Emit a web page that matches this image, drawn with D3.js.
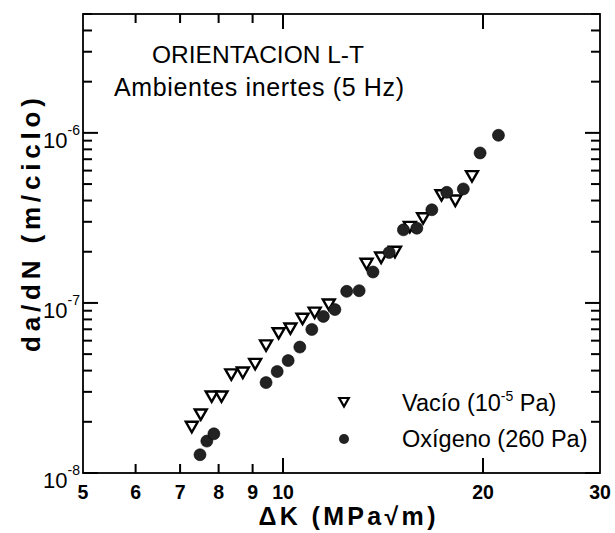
<!DOCTYPE html>
<html><head><meta charset="utf-8">
<script src="https://cdn.jsdelivr.net/npm/d3@7/dist/d3.min.js"></script>
<style>
body{margin:0;background:#fff}
svg{display:block}
text{font-family:"Liberation Sans",Arial,Helvetica,sans-serif;fill:#000}
</style>
</head><body>
<svg id="c" width="615" height="533"></svg>
<script>
// ---- data ----
const vacioK    = [7.29, 7.52, 7.81, 8.08, 8.36, 8.70, 9.08, 9.43, 9.85, 10.26, 10.70, 11.16, 11.72, 13.36, 14.05, 14.74, 15.52, 16.25, 17.32, 18.17, 19.25];
const vacioRate = [1.87e-8, 2.21e-8, 2.82e-8, 2.82e-8, 3.80e-8, 3.90e-8, 4.38e-8, 5.63e-8, 6.64e-8, 7.08e-8, 8.08e-8, 8.77e-8, 9.8e-8, 1.70e-7, 1.85e-7, 2.0e-7, 2.8e-7, 3.15e-7, 4.3e-7, 4.0e-7, 5.57e-7];
const oxiK      = [7.50, 7.68, 7.87, 9.43, 9.80, 10.18, 10.60, 11.05, 11.50, 11.97, 12.47, 13.02, 13.66, 14.45, 15.18, 15.90, 16.75, 17.64, 18.68, 19.80, 21.10];
const oxiRate   = [1.28e-8, 1.54e-8, 1.70e-8, 3.40e-8, 3.95e-8, 4.58e-8, 5.5e-8, 6.98e-8, 8.33e-8, 9.14e-8, 1.17e-7, 1.18e-7, 1.52e-7, 1.98e-7, 2.69e-7, 2.75e-7, 3.53e-7, 4.47e-7, 4.68e-7, 7.62e-7, 9.68e-7];

const xDomain = [5, 30];
const yDomain = [1e-8, 5e-6];
const xTickValues = [5, 6, 7, 8, 9, 10, 20, 30];
const xTickLabels = ["5", "6", "7", "8", "9", "10", "20", "30"];
const xMajorTicks = [10, 20];
const xMinorTicks = [6, 7, 8, 9];
const yDecades = [1e-8, 1e-7, 1e-6];
const yExponents = ["-8", "-7", "-6"];
const yMinorMultipliers = [2, 3, 4, 5, 6, 7, 8, 9];
const titleLines = ["ORIENTACION L-T", "Ambientes inertes (5 Hz)"];
const xTitle = "\u0394K  (MPa\u221Am)";
const yTitle = "da/dN  (m/ciclo)";
const legendVacio = ["Vac\u00EDo (10", "-5", " Pa)"];
const legendOxi = "Ox\u00EDgeno (260 Pa)";

// ---- layout ----
const L = 83, R = 600, T = 14, B = 473;
const svg = d3.select("#c");
const x = d3.scaleLog().domain(xDomain).range([L, R]);
const y = d3.scaleLog().domain(yDomain).range([B, T]);

const yMinorTicks = [];
yDecades.forEach(d => yMinorMultipliers.forEach(k => { const v = d * k; if (v < yDomain[1]) yMinorTicks.push(v); }));

// frame
svg.append("rect").attr("x", L).attr("y", T).attr("width", R - L).attr("height", B - T)
  .attr("fill", "none").attr("stroke", "#000").attr("stroke-width", 1.8);

// ticks (inward)
const MAJ = 15, MIN = 9, TW = 2;
const xt = [];
xMajorTicks.forEach(v => xt.push({v, len: MAJ}));
xMinorTicks.forEach(v => xt.push({v, len: MIN}));
const yt = [];
yDecades.forEach(v => yt.push({v, len: MAJ}));
yMinorTicks.forEach(v => yt.push({v, len: MIN}));

const tg = svg.append("g").attr("class", "ticks");
[B, T].forEach(edge => {
  tg.append("g").selectAll("rect").data(xt).join("rect")
    .attr("x", d => x(d.v) - TW / 2).attr("width", TW)
    .attr("y", d => edge === B ? B - d.len : T).attr("height", d => d.len)
    .attr("fill", "#000").attr("stroke", "none");
});
[L, R].forEach(edge => {
  tg.append("g").selectAll("rect").data(yt).join("rect")
    .attr("y", d => y(d.v) - TW / 2).attr("height", TW)
    .attr("x", d => edge === L ? L : R - d.len).attr("width", d => d.len)
    .attr("fill", "#000").attr("stroke", "none");
});

// x tick labels
svg.append("g").selectAll("text").data(xTickValues).join("text")
  .attr("x", d => x(d)).attr("y", 499).attr("text-anchor", "middle")
  .attr("font-size", 19.5).attr("font-weight", "bold")
  .text((d, i) => xTickLabels[i]);

// y tick labels
const yl = svg.append("g").selectAll("text").data(yDecades).join("text")
  .attr("x", 80).attr("y", d => y(d) + 15).attr("text-anchor", "end").attr("font-size", 22);
yl.append("tspan").text("10");
yl.append("tspan").attr("dy", -13).attr("font-size", 14).text((d, i) => yExponents[i]);

// axis titles
svg.append("text").attr("x", 347).attr("y", 525).attr("text-anchor", "middle")
  .attr("font-size", 25).attr("font-weight", "bold")
  .attr("textLength", 177).attr("lengthAdjust", "spacing").text(xTitle);
svg.append("text").attr("transform", "translate(40,225) rotate(-90)").attr("text-anchor", "middle")
  .attr("font-size", 26).attr("font-weight", "bold")
  .attr("textLength", 254).attr("lengthAdjust", "spacing").text(yTitle);

// title
svg.append("text").attr("x", 258).attr("y", 63).attr("text-anchor", "middle")
  .attr("font-size", 24.5).text(titleLines[0]);
svg.append("text").attr("x", 259).attr("y", 96).attr("text-anchor", "middle")
  .attr("font-size", 25).attr("textLength", 290).attr("lengthAdjust", "spacing").text(titleLines[1]);

// markers
const triPath = "M-6,-5L6,-5L0,5.5z";
const triSmall = "M-4.8,-4L4.8,-4L0,4.5z";
svg.append("g").selectAll("path").data(vacioK).join("path")
  .attr("transform", (d, i) => `translate(${x(d)},${y(vacioRate[i])})`)
  .attr("d", triPath).attr("fill", "#fff").attr("stroke", "#000").attr("stroke-width", 2.4)
  .attr("stroke-linejoin", "miter");
svg.append("g").selectAll("circle").data(oxiK).join("circle")
  .attr("cx", d => x(d)).attr("cy", (d, i) => y(oxiRate[i])).attr("r", 6)
  .attr("fill", "#222").attr("stroke", "#000").attr("stroke-width", 0.6);

// legend
svg.append("path").attr("transform", "translate(344,402)").attr("d", triSmall)
  .attr("fill", "#fff").attr("stroke", "#000").attr("stroke-width", 2.2);
svg.append("circle").attr("cx", 344).attr("cy", 439).attr("r", 5).attr("fill", "#222");
const lv = svg.append("text").attr("x", 402).attr("y", 411).attr("font-size", 23.5);
lv.append("tspan").text(legendVacio[0]);
lv.append("tspan").attr("dy", -10).attr("font-size", 14).text(legendVacio[1]);
lv.append("tspan").attr("dy", 10).text(legendVacio[2]);
svg.append("text").attr("x", 402).attr("y", 447).attr("font-size", 23.5).text(legendOxi);
</script>
</body></html>
